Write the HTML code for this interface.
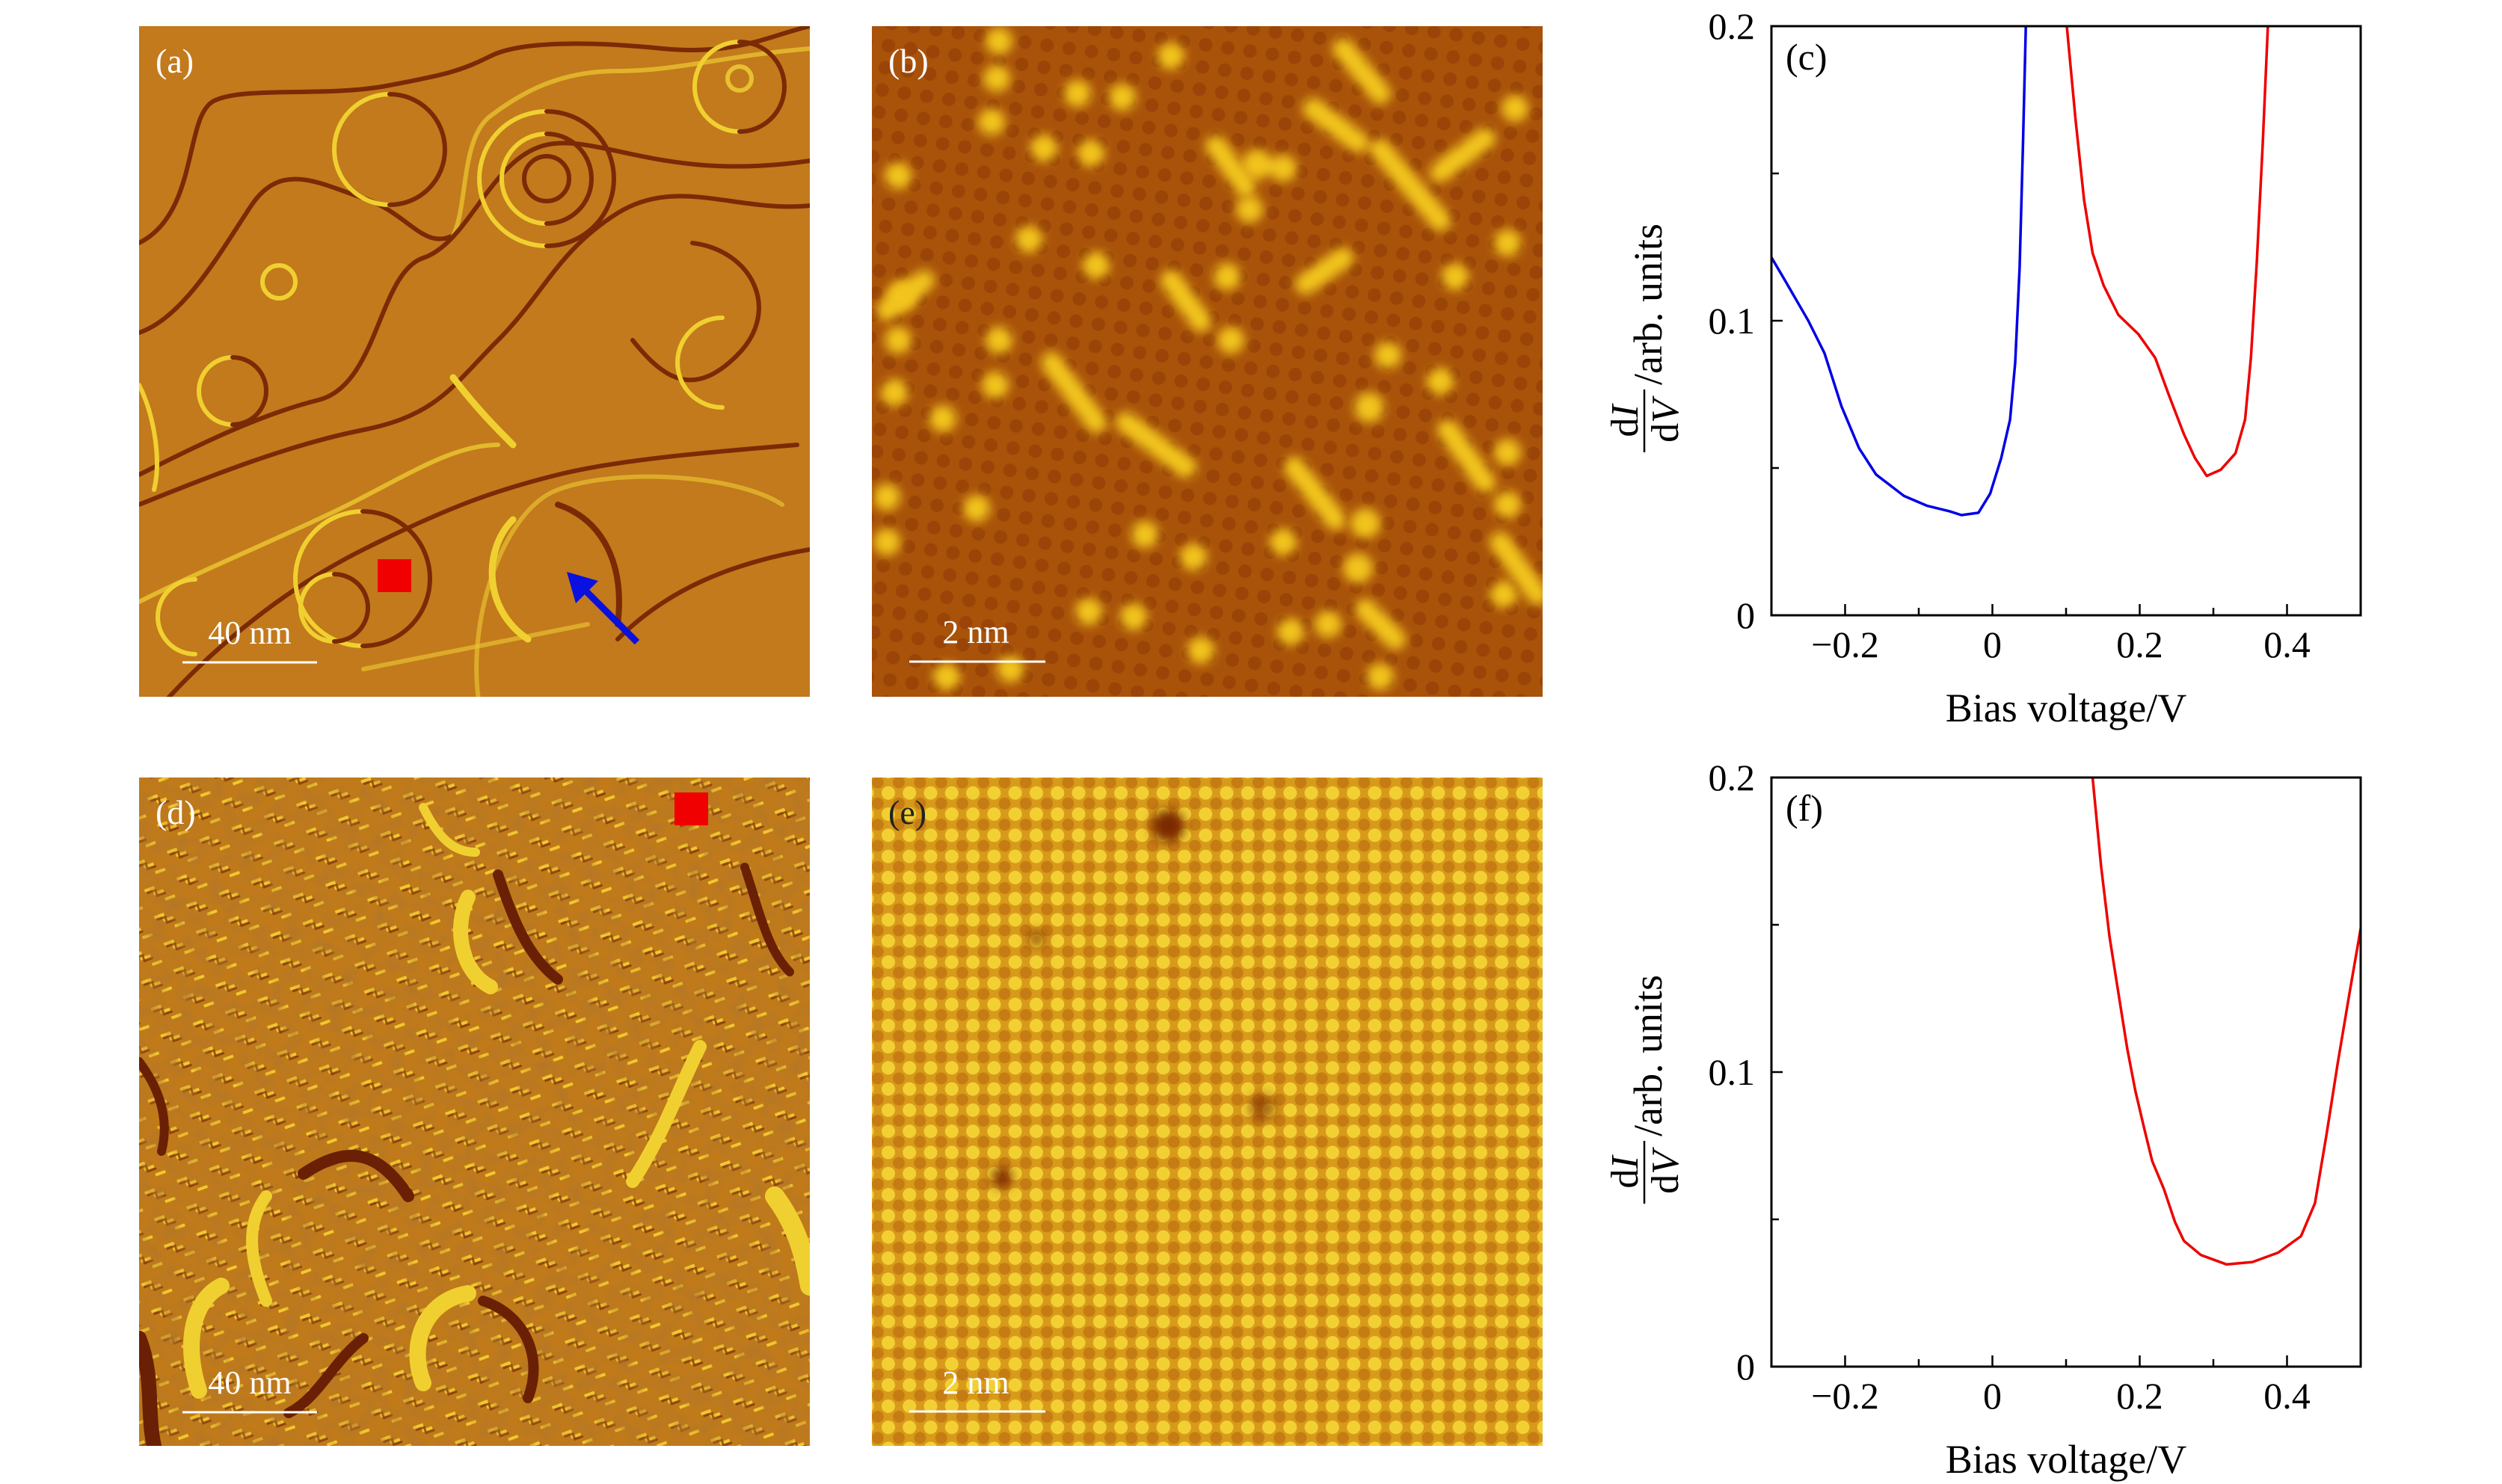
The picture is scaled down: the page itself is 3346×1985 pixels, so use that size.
<!DOCTYPE html>
<html><head><meta charset="utf-8">
<style>
html,body{margin:0;padding:0;background:#fff;}
svg{display:block;}
text{font-family:"Liberation Serif",serif;}
</style></head>
<body>
<svg id="fig" width="3346" height="1985" viewBox="0 0 3346 1985" xmlns="http://www.w3.org/2000/svg">
<defs>
  <filter id="blur4"><feGaussianBlur stdDeviation="7"/></filter>
  <filter id="blur2"><feGaussianBlur stdDeviation="2.5"/></filter>
  <filter id="tex" x="0" y="0" width="100%" height="100%">
    <feTurbulence type="fractalNoise" baseFrequency="0.05" numOctaves="2" seed="3" result="n"/>
    <feColorMatrix in="n" type="matrix" values="0 0 0 0 0.45  0 0 0 0 0.18  0 0 0 0 0.02  0 0 0 1.6 -0.6"/>
  </filter>
  <pattern id="bgrid" width="30" height="30" patternUnits="userSpaceOnUse" patternTransform="rotate(8)">
    <rect width="30" height="30" fill="#a8520a"/>
    <circle cx="15" cy="15" r="9" fill="#8a3604" opacity="0.45"/>
  </pattern>
  <pattern id="egrid" width="40" height="40" patternUnits="userSpaceOnUse" patternTransform="rotate(45)">
    <rect width="40" height="40" fill="#d89a1a"/>
    <circle cx="10" cy="10" r="9" fill="#f2d034"/>
    <circle cx="30" cy="30" r="9" fill="#f2d034"/>
    <circle cx="30" cy="10" r="8" fill="#c27812" opacity="0.85"/>
    <circle cx="10" cy="30" r="8" fill="#c27812" opacity="0.85"/>
  </pattern>
  <pattern id="dgrid" width="46" height="38" patternUnits="userSpaceOnUse" patternTransform="rotate(-20)">
    <rect width="46" height="38" fill="#c07a1a"/>
    <path d="M4 8 l12 0 l0 8 l12 0" stroke="#f0c830" stroke-width="4" fill="none"/>
    <path d="M6 12 l12 0 l0 8 l12 0" stroke="#7a2c06" stroke-width="3" fill="none" opacity="0.7"/>
    <path d="M26 28 l14 0" stroke="#f0c830" stroke-width="4" fill="none"/>
  </pattern>
  <clipPath id="clipA"><rect x="186" y="35" width="897" height="897"/></clipPath>
  <clipPath id="clipB"><rect x="1166" y="35" width="897" height="897"/></clipPath>
  <clipPath id="clipD"><rect x="186" y="1040" width="897" height="894"/></clipPath>
  <clipPath id="clipE"><rect x="1166" y="1040" width="897" height="894"/></clipPath>
  <clipPath id="clipC"><rect x="2369" y="35" width="788" height="788"/></clipPath>
  <clipPath id="clipF"><rect x="2369" y="1040" width="788" height="788"/></clipPath>
</defs>

<!-- Panel (a) -->
<g clip-path="url(#clipA)">
  <rect x="186" y="35" width="897" height="897" fill="#c27a1c"/>
  <g fill="none" stroke-width="6" stroke-linecap="round" transform="translate(186,35)">
    <path d="M0 290 C80 250 60 120 100 100 S250 95 330 80 S430 60 470 40 S600 20 700 30 S850 10 897 0" stroke="#7a2a05"/>
    <path d="M0 410 C60 390 110 300 150 240 S240 210 300 230 S380 300 420 280" stroke="#7a2a05"/>
    <path d="M420 280 C440 240 430 150 470 120 S560 60 640 60 S780 40 897 30" stroke="#e8c030" opacity="0.8"/>
    <path d="M0 600 C80 560 160 520 240 500 S320 330 380 310 S470 180 540 160 S700 210 897 180" stroke="#7a2a05"/>
    <path d="M0 640 C100 600 200 560 300 540 S420 480 480 420 S560 300 640 250 S800 250 897 240" stroke="#7a2a05"/>
    <path d="M20 920 C80 850 180 760 300 700 S480 620 560 600 S760 570 880 560" stroke="#7a2a05"/>
    <path d="M0 770 C100 720 200 680 280 640 S420 560 480 560" stroke="#e8c030" opacity="0.9"/>
    <path d="M420 470 C450 510 480 540 500 560" stroke="#f0d030" stroke-width="9"/>
    <path d="M740 290 C820 300 860 380 800 440 S700 470 660 420" stroke="#7a2a05"/>
    <path d="M640 820 C700 760 780 720 897 700" stroke="#7a2a05"/>
    <path d="M300 860 C400 840 500 820 600 800" stroke="#e8c030" opacity="0.7"/>
    <path d="M460 930 C430 820 480 650 560 620 S800 600 860 640" stroke="#e8c030" opacity="0.7"/>
    <path d="M0 480 C20 520 30 580 20 620" stroke="#f0d030"/>
    <path d="M335 91 A74 74 0 0 0 335 239" stroke="#f0d030"/>
    <path d="M335 91 A74 74 0 0 1 335 239" stroke="#7a2a05"/>
    <path d="M803 21 A60 60 0 0 0 803 141" stroke="#f0d030"/>
    <path d="M803 21 A60 60 0 0 1 803 141" stroke="#7a2a05"/>
    <circle cx="803" cy="70" r="16" stroke="#e8c030"/>
    <circle cx="545" cy="204" r="30" stroke="#7a2a05"/>
    <path d="M545 144 A60 60 0 0 0 545 264" stroke="#f0d030"/>
    <path d="M545 144 A60 60 0 0 1 545 264" stroke="#7a2a05"/>
    <path d="M545 114 A90 90 0 0 0 545 294" stroke="#f0d030"/>
    <path d="M545 114 A90 90 0 0 1 545 294" stroke="#7a2a05"/>
    <circle cx="187" cy="342" r="22" stroke="#f0d030"/>
    <path d="M125 443 A45 45 0 0 0 125 533" stroke="#f0d030"/>
    <path d="M125 443 A45 45 0 0 1 125 533" stroke="#7a2a05"/>
    <path d="M299 649 A90 90 0 0 0 299 829" stroke="#f0d030"/>
    <path d="M299 649 A90 90 0 0 1 299 829" stroke="#7a2a05"/>
    <path d="M261 733 A45 45 0 0 0 261 823" stroke="#f0d030"/>
    <path d="M261 733 A45 45 0 0 1 261 823" stroke="#7a2a05"/>
    <path d="M75 740 A50 50 0 0 0 75 840" stroke="#f0d030"/>
    <path d="M780 390 A60 60 0 0 0 780 510" stroke="#f0d030"/>
    <path d="M500 660 C460 700 460 780 520 820" stroke="#f0d030" stroke-width="9"/>
    <path d="M560 640 C620 660 650 720 640 800" stroke="#7a2a05" stroke-width="8"/>
  </g>
  <rect x="505" y="748" width="45" height="44" fill="#f00000"/>
  <g>
    <line x1="852" y1="859" x2="782" y2="789" stroke="#0a10e0" stroke-width="9"/>
    <polygon points="758,765 800,777 770,807" fill="#0a10e0"/>
  </g>
  <line x1="244" y1="886" x2="424" y2="886" stroke="#fff" stroke-width="3"/>
  <text x="334" y="861" font-size="44" fill="#fff" text-anchor="middle">40 nm</text>
  <text x="208" y="97" font-size="46" fill="#fff">(a)</text>
</g>

<!-- Panel (b) -->
<g clip-path="url(#clipB)">
  <rect x="1166" y="35" width="897" height="897" fill="url(#bgrid)"/>
  <g fill="#f2c41c" filter="url(#blur4)" transform="translate(1166,35)">
    <circle cx="170" cy="20" r="18"/><circle cx="167" cy="70" r="18"/><circle cx="160" cy="128" r="18"/>
    <circle cx="275" cy="90" r="18"/><circle cx="335" cy="95" r="18"/><circle cx="230" cy="163" r="18"/>
    <circle cx="293" cy="170" r="18"/><circle cx="400" cy="40" r="18"/><circle cx="210" cy="285" r="18"/>
    <circle cx="300" cy="320" r="18"/><circle cx="515" cy="185" r="20"/><circle cx="505" cy="245" r="18"/>
    <circle cx="550" cy="190" r="18"/><circle cx="475" cy="335" r="18"/><circle cx="170" cy="420" r="18"/>
    <circle cx="165" cy="480" r="18"/><circle cx="30" cy="490" r="18"/><circle cx="95" cy="525" r="18"/>
    <circle cx="480" cy="420" r="18"/><circle cx="690" cy="440" r="18"/><circle cx="665" cy="510" r="20"/>
    <circle cx="760" cy="475" r="18"/><circle cx="20" cy="630" r="18"/><circle cx="20" cy="690" r="18"/>
    <circle cx="140" cy="645" r="18"/><circle cx="365" cy="680" r="18"/><circle cx="430" cy="710" r="18"/>
    <circle cx="550" cy="690" r="18"/><circle cx="660" cy="665" r="20"/><circle cx="650" cy="725" r="20"/>
    <circle cx="850" cy="570" r="18"/><circle cx="850" cy="640" r="18"/><circle cx="845" cy="760" r="18"/>
    <circle cx="290" cy="783" r="18"/><circle cx="350" cy="790" r="18"/><circle cx="440" cy="835" r="18"/>
    <circle cx="560" cy="810" r="18"/><circle cx="610" cy="800" r="18"/><circle cx="680" cy="870" r="18"/>
    <circle cx="100" cy="870" r="18"/><circle cx="185" cy="860" r="18"/><circle cx="35" cy="200" r="18"/>
    <circle cx="35" cy="420" r="18"/><circle cx="40" cy="360" r="20"/><circle cx="860" cy="110" r="18"/>
    <circle cx="850" cy="290" r="18"/><circle cx="780" cy="335" r="18"/>
  </g>
  <g stroke="#f2c41c" stroke-width="28" stroke-linecap="round" filter="url(#blur4)" transform="translate(1166,35)">
    <line x1="460" y1="160" x2="500" y2="215"/><line x1="590" y1="110" x2="650" y2="155"/>
    <line x1="680" y1="165" x2="760" y2="260"/><line x1="760" y1="195" x2="820" y2="150"/>
    <line x1="400" y1="340" x2="440" y2="395"/><line x1="580" y1="345" x2="630" y2="310"/>
    <line x1="240" y1="450" x2="300" y2="530"/><line x1="340" y1="530" x2="420" y2="590"/>
    <line x1="565" y1="590" x2="620" y2="660"/><line x1="770" y1="540" x2="820" y2="610"/>
    <line x1="20" y1="380" x2="70" y2="340"/><line x1="660" y1="780" x2="700" y2="820"/>
    <line x1="840" y1="690" x2="890" y2="760"/><line x1="630" y1="30" x2="680" y2="90"/>
  </g>
  <line x1="1216" y1="885" x2="1398" y2="885" stroke="#fff" stroke-width="3"/>
  <text x="1305" y="860" font-size="44" fill="#fff" text-anchor="middle">2 nm</text>
  <text x="1188" y="97" font-size="46" fill="#fff">(b)</text>
</g>

<!-- Panel (d) -->
<g clip-path="url(#clipD)">
  <rect x="186" y="1040" width="897" height="894" fill="url(#dgrid)"/>
  <rect x="186" y="1040" width="897" height="894" filter="url(#tex)"/>
  <g fill="none" stroke-linecap="round" transform="translate(186,1040)">
    <path d="M440 160 C420 200 430 260 470 280" stroke="#f0d030" stroke-width="20"/>
    <path d="M480 130 C500 190 520 240 560 270" stroke="#6a2004" stroke-width="14"/>
    <path d="M750 360 C720 420 700 480 660 540" stroke="#f0d030" stroke-width="18"/>
    <path d="M810 120 C830 180 840 230 870 260" stroke="#6a2004" stroke-width="12"/>
    <path d="M220 530 C280 490 320 500 360 560" stroke="#6a2004" stroke-width="16"/>
    <path d="M170 560 C140 600 150 650 170 700" stroke="#f0d030" stroke-width="16"/>
    <path d="M80 820 C60 760 70 700 110 680" stroke="#f0d030" stroke-width="22"/>
    <path d="M380 810 C360 760 380 700 440 690" stroke="#f0d030" stroke-width="22"/>
    <path d="M460 700 C520 720 540 780 520 830" stroke="#6a2004" stroke-width="14"/>
    <path d="M300 750 C260 780 240 830 200 850" stroke="#6a2004" stroke-width="14"/>
    <path d="M0 750 C20 800 10 850 20 894" stroke="#6a2004" stroke-width="20"/>
    <path d="M850 560 C880 600 890 640 897 680" stroke="#f0d030" stroke-width="26"/>
    <path d="M0 380 C30 420 40 460 30 500" stroke="#6a2004" stroke-width="12"/>
    <path d="M380 40 C400 80 420 100 450 100" stroke="#f0d030" stroke-width="12"/>
  </g>
  <rect x="902" y="1060" width="45" height="44" fill="#f00000"/>
  <line x1="244" y1="1889" x2="424" y2="1889" stroke="#fff" stroke-width="3"/>
  <text x="334" y="1864" font-size="44" fill="#fff" text-anchor="middle">40 nm</text>
  <text x="208" y="1102" font-size="46" fill="#fff">(d)</text>
</g>

<!-- Panel (e) -->
<g clip-path="url(#clipE)">
  <rect x="1166" y="1040" width="897" height="894" fill="url(#egrid)"/>
  <g fill="#7a2a04" filter="url(#blur4)" transform="translate(1166,1040)">
    <circle cx="396" cy="65" r="22"/>
    <circle cx="220" cy="215" r="11" opacity="0.7"/>
    <circle cx="522" cy="441" r="18" opacity="0.6"/>
    <circle cx="174" cy="535" r="14" opacity="0.9"/>
  </g>
  <line x1="1216" y1="1888" x2="1398" y2="1888" stroke="#fff" stroke-width="3"/>
  <text x="1305" y="1864" font-size="44" fill="#fff" text-anchor="middle">2 nm</text>
  <text x="1188" y="1102" font-size="46" fill="#222">(e)</text>
</g>

<g id="chartC"></g>
<g id="chartF"></g>
</svg>

<script>
// ---- chart data ----
const xTickValues = [-0.2, -0.1, 0, 0.1, 0.2, 0.3, 0.4];
const xTickLabels = ["\u22120.2", "", "0", "", "0.2", "", "0.4"];
const yTickValues = [0, 0.05, 0.1, 0.15, 0.2];
const yTickLabels = ["0", "", "0.1", "", "0.2"];

const blueCX = [-0.3, -0.28, -0.25, -0.228, -0.205, -0.181, -0.158, -0.12, -0.089, -0.058, -0.042, -0.019, -0.003, 0.012, 0.024, 0.031, 0.037, 0.0415, 0.0454];
const blueCY = [0.1215, 0.113, 0.1, 0.089, 0.071, 0.0567, 0.0478, 0.0405, 0.0372, 0.0353, 0.034, 0.0348, 0.0413, 0.0534, 0.0664, 0.0858, 0.118, 0.160, 0.2];

const redCX = [0.101, 0.113, 0.1245, 0.136, 0.151, 0.171, 0.198, 0.221, 0.24, 0.26, 0.275, 0.291, 0.31, 0.33, 0.343, 0.351, 0.359, 0.367, 0.374];
const redCY = [0.2, 0.168, 0.141, 0.123, 0.112, 0.102, 0.0955, 0.0874, 0.0745, 0.0615, 0.0534, 0.0473, 0.0494, 0.055, 0.0664, 0.0874, 0.12, 0.160, 0.2];

const redFX = [0.136, 0.1475, 0.159, 0.171, 0.183, 0.194, 0.206, 0.217, 0.233, 0.248, 0.26, 0.283, 0.318, 0.353, 0.388, 0.419, 0.438, 0.454, 0.469, 0.485, 0.5];
const redFY = [0.2, 0.170, 0.146, 0.127, 0.108, 0.0937, 0.081, 0.0698, 0.0602, 0.049, 0.0427, 0.0379, 0.0347, 0.0355, 0.0387, 0.0443, 0.0555, 0.0794, 0.1033, 0.127, 0.1487];

const NS = "http://www.w3.org/2000/svg";
function mk(tag, attrs, parent) {
  const e = document.createElementNS(NS, tag);
  for (const k in attrs) e.setAttribute(k, attrs[k]);
  parent.appendChild(e);
  return e;
}

function drawChart(gid, top, label, clipId, series) {
  const g = document.getElementById(gid);
  const L = 2369, R = 3157, B = top + 788;
  const xs = v => L + (v + 0.3) / 0.8 * (R - L);
  const ys = v => B - v / 0.2 * (B - top);

  xTickValues.forEach((v, i) => {
    const major = xTickLabels[i] !== "";
    const t = mk("line", {x1: xs(v), x2: xs(v), y1: B, y2: B - (major ? 15 : 10), stroke: "#000", "stroke-width": 2.5}, g);
    
    
    if (major) {
      const tx = mk("text", {x: xs(v), y: B + 56, "font-size": 50, "text-anchor": "middle", fill: "#000"}, g);
      tx.textContent = xTickLabels[i];
      
      
    }
  });
  yTickValues.forEach((v, i) => {
    const major = yTickLabels[i] !== "";
    const t = mk("line", {x1: L, x2: L + (major ? 15 : 10), y1: ys(v), y2: ys(v), stroke: "#000", "stroke-width": 2.5}, g);
    
    
    if (major) {
      const tx = mk("text", {x: L - 22, y: ys(v) + 17, "font-size": 50, "text-anchor": "end", fill: "#000"}, g);
      tx.textContent = yTickLabels[i];
      
      
    }
  });

  const sg = mk("g", {"clip-path": "url(#" + clipId + ")"}, g);
  series.forEach(s => {
    const pts = s.x.map((xv, i) => xs(xv).toFixed(1) + "," + ys(s.y[i]).toFixed(1)).join(" ");
    const pl = mk("polyline", {points: pts, fill: "none", stroke: s.color, "stroke-width": 3.5, "stroke-linejoin": "round"}, sg);
    
    
  });

  const fr = mk("rect", {x: L, y: top, width: R - L, height: B - top, fill: "none", stroke: "#000", "stroke-width": 3}, g);
  
  

  const pl = mk("text", {x: L + 19, y: top + 58, "font-size": 50, fill: "#000"}, g);
  pl.textContent = label;
  
  

  const xt = mk("text", {x: (L + R) / 2, y: top + 930, "font-size": 54, "text-anchor": "middle", fill: "#000"}, g);
  xt.textContent = "Bias voltage/V";
  
  

  const yg = mk("g", {}, g);
  
  
  const fy = top + 528;
  const num = mk("text", {transform: "translate(2190," + fy + ") rotate(-90)", "font-size": 52, "text-anchor": "middle", fill: "#000"}, yg);
  num.innerHTML = 'd<tspan font-style="italic">I</tspan>';
  mk("line", {x1: 2199, x2: 2199, y1: fy - 42, y2: fy + 42, stroke: "#000", "stroke-width": 2.5}, yg);
  const den = mk("text", {transform: "translate(2244," + fy + ") rotate(-90)", "font-size": 52, "text-anchor": "middle", fill: "#000"}, yg);
  den.innerHTML = 'd<tspan font-style="italic">V</tspan>';
  const rest = mk("text", {transform: "translate(2222," + (top + 480) + ") rotate(-90)", "font-size": 54, fill: "#000"}, yg);
  rest.textContent = "/arb. units";
}

drawChart("chartC", 35, "(c)", "clipC", [
  {x: blueCX, y: blueCY, color: "#0000e6", name: "blue-curve-c"},
  {x: redCX, y: redCY, color: "#ee0000", name: "red-curve-c"}
]);
drawChart("chartF", 1040, "(f)", "clipF", [
  {x: redFX, y: redFY, color: "#ee0000", name: "red-curve-f"}
]);
</script>
</body></html>
